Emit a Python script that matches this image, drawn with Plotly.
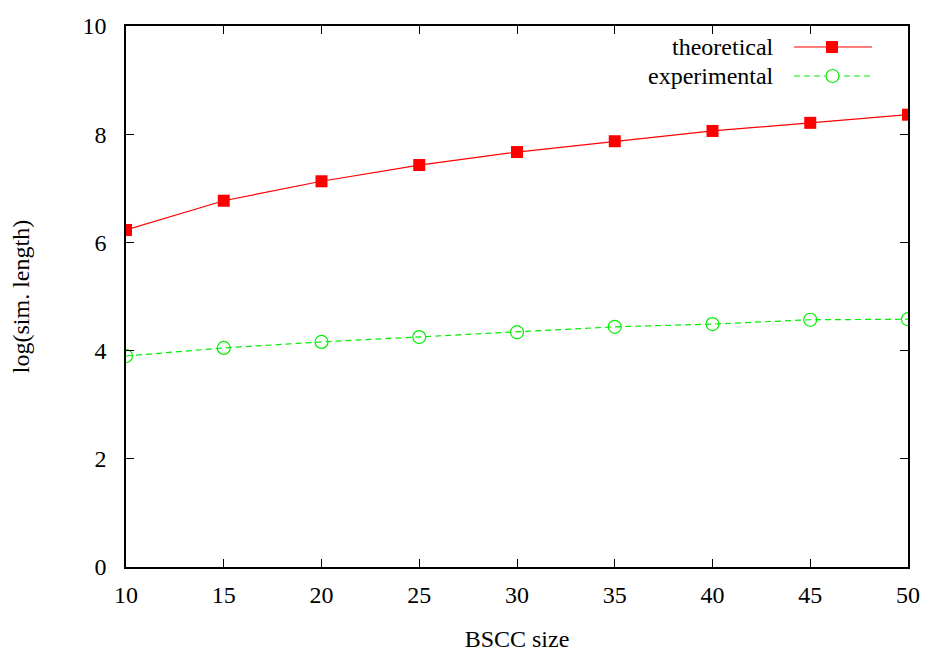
import plotly.graph_objects as go

bscc_size = [10, 15, 20, 25, 30, 35, 40, 45, 50]
theoretical = [6.23, 6.77, 7.13, 7.43, 7.67, 7.87, 8.06, 8.21, 8.36]
experimental = [3.90, 4.05, 4.16, 4.25, 4.34, 4.44, 4.49, 4.57, 4.58]
y_ticks = [0, 2, 4, 6, 8, 10]
x_ticks = [10, 15, 20, 25, 30, 35, 40, 45, 50]

OFF = 8  # page body margin
W, H = 929 - OFF, 654 - OFF
L, R, T, B = 126 - OFF, 21, 26 - OFF, 87
pw, ph = W - L - R, H - T - B

def px(x):
    return (x - OFF - L) / pw

def py(y):
    return 1 - (y - OFF - T) / ph

FONT = "Liberation Serif"
FS = 24
GREEN_DASH = "6px,4px"

fig = go.Figure()
fig.add_trace(go.Scatter(x=bscc_size, y=theoretical, mode="lines+markers", name="theoretical",
                         line=dict(color="#ff0000", width=1.2),
                         marker=dict(symbol="square", size=12, color="#ff0000"),
                         showlegend=False))
fig.add_trace(go.Scatter(x=bscc_size, y=experimental, mode="lines+markers", name="experimental",
                         line=dict(color="#00ee00", width=1.2, dash=GREEN_DASH),
                         marker=dict(symbol="circle-open", size=13, color="#00ee00", line=dict(width=1.2)),
                         showlegend=False))

axis_common = dict(showgrid=False, zeroline=False, showline=True, linecolor="black", linewidth=1.5,
                   ticks="inside", ticklen=8, tickcolor="black", mirror="ticks", automargin=False,
                   tickfont=dict(family=FONT, size=FS, color="black"))

fig.update_layout(
    width=W, height=H,
    margin=dict(l=L, r=R, t=T, b=B, pad=0, autoexpand=False),
    plot_bgcolor="white", paper_bgcolor="white",
    font=dict(family=FONT, size=FS, color="black"),
    xaxis=dict(range=[10, 50], tickvals=x_ticks, ticktext=[str(v) for v in x_ticks],
               ticklabelstandoff=5,
               title=dict(text="BSCC size", font=dict(family=FONT, size=FS), standoff=24),
               **axis_common),
    yaxis=dict(range=[0, 10], tickvals=y_ticks, ticktext=[str(v) for v in y_ticks],
               ticklabelstandoff=13,
               title=dict(text="log(sim. length)", font=dict(family=FONT, size=FS), standoff=50),
               **axis_common),
)

# legend (drawn in gnuplot style: text on the left, sample on the right)
leg = [("theoretical", 47, "#ff0000", None, "square"),
       ("experimental", 76, "#00ee00", GREEN_DASH, "circle")]
for name, yp, col, dash, sym in leg:
    fig.add_annotation(x=px(776), y=py(yp), xref="paper", yref="paper", text=name, showarrow=False,
                       xanchor="right", yanchor="middle", font=dict(family=FONT, size=FS, color="black"))
    fig.add_shape(type="line", xref="paper", yref="paper", x0=px(794), x1=px(872), y0=py(yp), y1=py(yp),
                  line=dict(color=col, width=1.2, dash=dash))
    if sym == "square":
        fig.add_shape(type="rect", xref="paper", yref="paper", x0=px(826), x1=px(838),
                      y0=py(yp + 6), y1=py(yp - 6), fillcolor=col, line=dict(width=0))
    else:
        fig.add_shape(type="circle", xref="paper", yref="paper", x0=px(826), x1=px(839),
                      y0=py(yp + 6.5), y1=py(yp - 6.5), fillcolor="white",
                      line=dict(color=col, width=1.2))

fig.write_html("out.html")
